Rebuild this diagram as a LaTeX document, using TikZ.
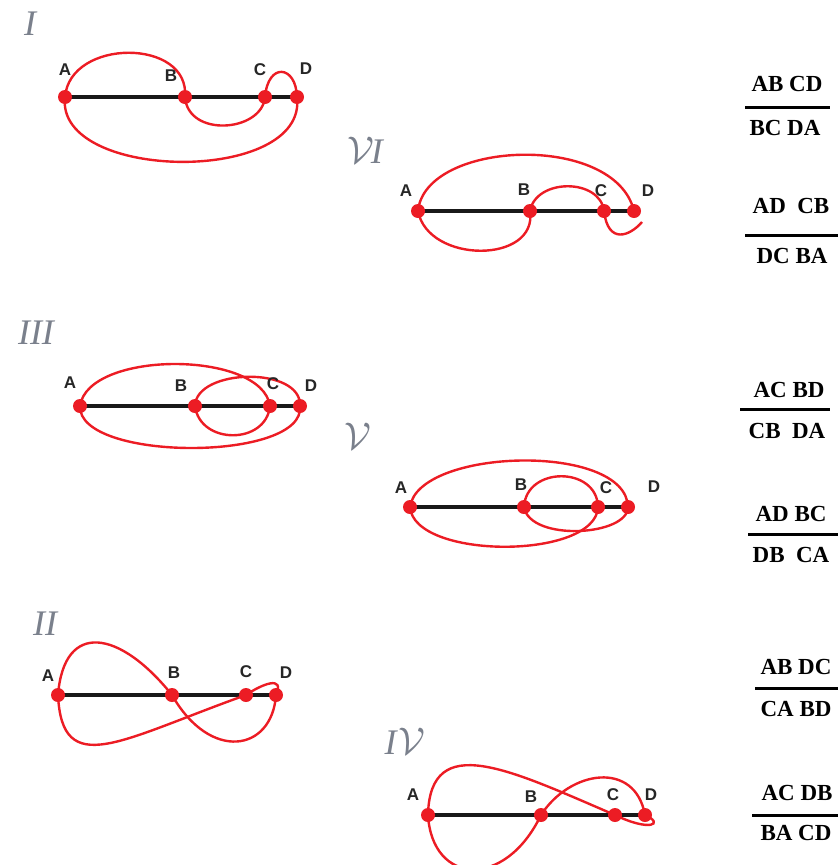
\documentclass[tikz,border=0pt]{standalone}
\usepackage{fontspec}
\setmainfont{Liberation Serif}
\newfontfamily\ptfont{Liberation Sans}
\definecolor{cred}{HTML}{EC1C24}
\definecolor{numgrey}{HTML}{7A808C}
\newcommand{\bigV}{\scalebox{1.55}{$\mathcal{V}$}}
\tikzset{
  seg/.style={line width=3.2pt, black!90},
  crv/.style={line width=2.4pt, cred},
  dotn/.style={circle, fill=cred, inner sep=0pt, minimum size=14pt},
  ptlab/.style={font=\ptfont\fontsize{17}{17}\selectfont\bfseries, text=black!85},
  numlab/.style={font=\fontsize{36}{36}\selectfont\itshape, text=numgrey},
  frac/.style={font=\fontsize{23}{23}\selectfont\bfseries, text=black},
  barline/.style={line width=3pt, black}
}
\begin{document}
\begin{tikzpicture}[x=1pt,y=-1pt]
\useasboundingbox (0,0) rectangle (838,865);

% ---------- I ----------
\node[numlab] (nI) at (30,24) {I};
\coordinate (I-A) at (65,97); \coordinate (I-B) at (185,97);
\coordinate (I-C) at (265,97); \coordinate (I-D) at (297,97);
\draw[seg] (I-A) -- (I-D);
\draw[crv] (I-A) .. controls (70,38) and (190,38) .. (I-B);
\draw[crv] (I-B) .. controls (188,138) and (262,132) .. (I-C);
\draw[crv] (I-C) .. controls (268,62) and (296,65) .. (I-D);
\draw[crv] (I-D) .. controls (308,185) and (55,182) .. (I-A);
\foreach \p in {A,B,C,D} \node[dotn] (I-\p d) at (I-\p) {};
\node[ptlab] (I-Al) at (65,70) {A};
\node[ptlab] (I-Bl) at (171,76) {B};
\node[ptlab] (I-Cl) at (260,70) {C};
\node[ptlab] (I-Dl) at (306,69) {D};

% ---------- VI ----------
\node[numlab] (nVI) at (365,150) {\bigV\kern-3ptI};
\coordinate (VI-A) at (418,211); \coordinate (VI-B) at (530,211);
\coordinate (VI-C) at (604,211); \coordinate (VI-D) at (634,211);
\draw[seg] (VI-A) -- (VI-D);
\draw[crv] (VI-A) .. controls (425,140) and (615,132) .. (VI-D);
\draw[crv] (VI-A) .. controls (428,264) and (538,264) .. (VI-B);
\draw[crv] (VI-B) .. controls (536,178) and (600,178) .. (VI-C);
\draw[crv] (VI-C) .. controls (608,245) and (630,236) .. (642,222);
\foreach \p in {A,B,C,D} \node[dotn] (VI-\p d) at (VI-\p) {};
\node[ptlab] (VI-Al) at (406,191) {A};
\node[ptlab] (VI-Bl) at (524,190) {B};
\node[ptlab] (VI-Cl) at (601,191) {C};
\node[ptlab] (VI-Dl) at (648,191) {D};

% ---------- III ----------
\node[numlab] (nIII) at (36,333) {III};
\coordinate (III-A) at (80,406); \coordinate (III-B) at (195,406);
\coordinate (III-C) at (270,406); \coordinate (III-D) at (300,406);
\draw[seg] (III-A) -- (III-D);
\draw[crv] (III-A) .. controls (88,350) and (262,350) .. (III-C);
\draw[crv] (III-B) .. controls (200,445) and (266,445) .. (III-C);
\draw[crv] (III-B) .. controls (196,368) and (302,366) .. (III-D);
\draw[crv] (III-D) .. controls (306,462) and (78,462) .. (III-A);
\foreach \p in {A,B,C,D} \node[dotn] (III-\p d) at (III-\p) {};
\node[ptlab] (III-Al) at (70,383) {A};
\node[ptlab] (III-Bl) at (181,386) {B};
\node[ptlab] (III-Cl) at (273,384) {C};
\node[ptlab] (III-Dl) at (311,386) {D};

% ---------- V ----------
\node[numlab] (nV) at (358,436) {\bigV};
\coordinate (V-A) at (410,507); \coordinate (V-B) at (524,507);
\coordinate (V-C) at (598,507); \coordinate (V-D) at (628,507);
\draw[seg] (V-A) -- (V-D);
\draw[crv] (V-A) .. controls (418,448) and (626,442) .. (V-D);
\draw[crv] (V-B) .. controls (526,466) and (597,466) .. (V-C);
\draw[crv] (V-B) .. controls (530,542) and (628,536) .. (V-D);
\draw[crv] (V-C) .. controls (596,560) and (414,560) .. (V-A);
\foreach \p in {A,B,C,D} \node[dotn] (V-\p d) at (V-\p) {};
\node[ptlab] (V-Al) at (401,488) {A};
\node[ptlab] (V-Bl) at (521,485) {B};
\node[ptlab] (V-Cl) at (606,488) {C};
\node[ptlab] (V-Dl) at (654,487) {D};

% ---------- II ----------
\node[numlab] (nII) at (45,624) {II};
\coordinate (II-A) at (58,695); \coordinate (II-B) at (172,695);
\coordinate (II-C) at (246,695); \coordinate (II-D) at (276,695);
\draw[seg] (II-A) -- (II-D);
\draw[crv] (II-A) .. controls (64,620) and (120,630) .. (II-B);
\draw[crv] (II-B) .. controls (210,762) and (272,752) .. (II-D);
\draw[crv] (II-A) .. controls (62,780) and (120,740) .. (II-C)
  .. controls (262,684) and (285,675) .. (II-D);
\foreach \p in {A,B,C,D} \node[dotn] (II-\p d) at (II-\p) {};
\node[ptlab] (II-Al) at (48,676) {A};
\node[ptlab] (II-Bl) at (174,673) {B};
\node[ptlab] (II-Cl) at (246,672) {C};
\node[ptlab] (II-Dl) at (286,673) {D};

% ---------- IV ----------
\node[numlab] (nIV) at (405,741) {I\kern2pt\bigV};
\coordinate (IV-A) at (428,815); \coordinate (IV-B) at (541,815);
\coordinate (IV-C) at (615,815); \coordinate (IV-D) at (645,815);
\draw[seg] (IV-A) -- (IV-D);
\draw[crv] (IV-A) .. controls (430,730) and (510,770) .. (IV-C)
  .. controls (650,832) and (665,824) .. (IV-D);
\draw[crv] (IV-B) .. controls (570,770) and (635,760) .. (IV-D);
\draw[crv] (IV-A) .. controls (432,885) and (505,890) .. (IV-B);
\foreach \p in {A,B,C,D} \node[dotn] (IV-\p d) at (IV-\p) {};
\node[ptlab] (IV-Al) at (413,795) {A};
\node[ptlab] (IV-Bl) at (531,797) {B};
\node[ptlab] (IV-Cl) at (613,795) {C};
\node[ptlab] (IV-Dl) at (651,795) {D};

% ---------- fractions ----------
\node[frac] (f1t) at (787,84) {AB CD};
\draw[barline] (745,107) -- (830,107);
\node[frac] (f1b) at (785,128) {BC DA};

\node[frac] (f2t) at (791,206) {AD\ \ CB};
\draw[barline] (745,235) -- (838,235);
\node[frac] (f2b) at (792,256) {DC BA};

\node[frac] (f3t) at (789,390) {AC BD};
\draw[barline] (740,409) -- (830,409);
\node[frac] (f3b) at (787,431) {CB\ \ DA};

\node[frac] (f4t) at (791,514) {AD BC};
\draw[barline] (748,534) -- (838,534);
\node[frac] (f4b) at (791,555) {DB\ \ CA};

\node[frac] (f5t) at (796,667) {AB DC};
\draw[barline] (755,688) -- (838,688);
\node[frac] (f5b) at (796,709) {CA BD};

\node[frac] (f6t) at (797,793) {AC DB};
\draw[barline] (752,815) -- (838,815);
\node[frac] (f6b) at (796,833) {BA CD};
\end{tikzpicture}
\end{document}
